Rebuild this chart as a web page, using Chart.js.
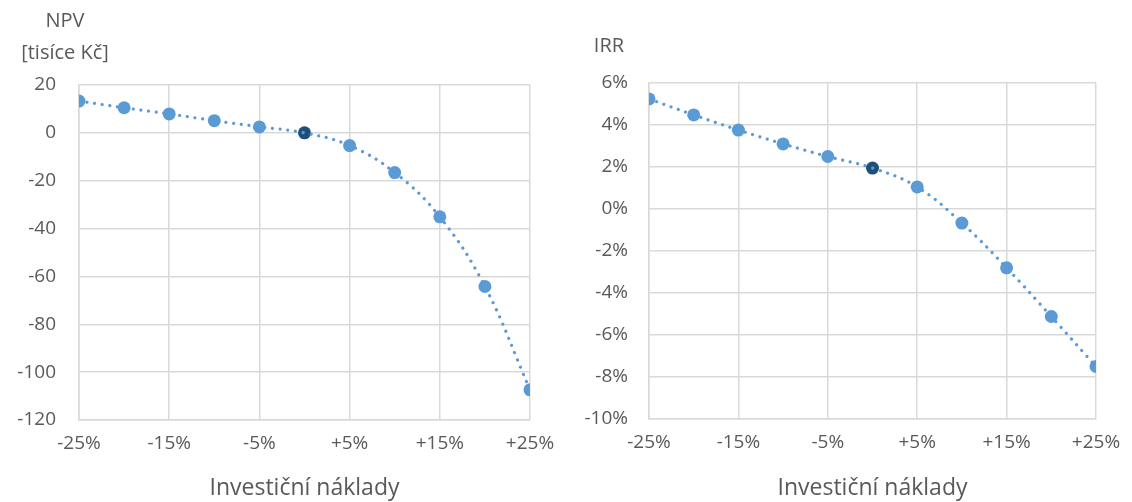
<!DOCTYPE html>
<html>
<head>
<meta charset="utf-8">
<script src="https://cdn.jsdelivr.net/npm/chart.js@4/dist/chart.umd.min.js"></script>
<style>
  html, body { margin: 0; padding: 0; background: #ffffff; }
  #wrap { position: relative; width: 1132px; height: 502px; overflow: hidden; }
  .panel { position: absolute; top: 0; width: 566px; height: 502px; }
  .ytitle { position: absolute; font-family: "Open Sans", sans-serif; font-size: 20px; color: #595959; text-align: center; line-height: 32px; }
</style>
</head>
<body>
<div id="wrap">
  <div class="panel" style="left:0"><canvas id="npv" width="566" height="502"></canvas></div>
  <div class="panel" style="left:566px"><canvas id="irr" width="566" height="502"></canvas></div>
  <div class="ytitle" style="left:5px; top:4px; width:120px;">NPV<br>[tisíce Kč]</div>
  <div class="ytitle" style="left:579px; top:29px; width:60px;">IRR</div>
</div>
<script>
// Change of investment costs (%)
const changes = [-25, -20, -15, -10, -5, 0, 5, 10, 15, 20, 25];
const xTicks = [-25, -15, -5, 5, 15, 25];
// NPV in thousands CZK
const npvValues = [13.3, 10.5, 7.9, 5.1, 2.5, 0, -5.3, -16.6, -35.1, -64.2, -107.4];
// IRR in %
const irrValues = [5.24, 4.48, 3.76, 3.1, 2.5, 1.95, 1.05, -0.67, -2.8, -5.12, -7.5];
const npvTicks = [-120, -100, -80, -60, -40, -20, 0, 20];
const irrTicks = [-10, -8, -6, -4, -2, 0, 2, 4, 6];
const baseIndex = 5;

const FONT = '"Open Sans", sans-serif';
const TEXT = '#595959';
const GRID = '#D9D9D9';
const BLUE = '#5B9BD5';
const DARK = '#1F4E79';

function pct(v) { return (v > 0 ? '+' : '') + v + '%'; }

// top: plot top edge; xHeight: height of the bottom axis box; yWidth: width of the left axis box
function makeChart(id, values, yTicks, yFmt, top, xHeight, yWidth, yPad) {
  const pts = changes.map((c, i) => ({ x: c, y: values[i] }));
  return new Chart(document.getElementById(id), {
    type: 'line',
    data: {
      datasets: [
        {
          data: pts,
          borderColor: BLUE,
          borderWidth: 3.2,
          borderDash: [0.01, 7.8],
          borderCapStyle: 'round',
          tension: 0.4,
          pointRadius: changes.map((c, i) => i === baseIndex ? 0 : 6.5),
          pointBackgroundColor: BLUE,
          pointBorderWidth: 0,
          order: 1
        },
        {
          data: [pts[baseIndex]],
          showLine: false,
          pointRadius: 6.5,
          pointBackgroundColor: DARK,
          pointBorderWidth: 0,
          order: 2
        }
      ]
    },
    options: {
      responsive: false,
      animation: false,
      layout: { padding: { top: top, right: 36, bottom: 0, left: 0 } },
      plugins: { legend: { display: false }, tooltip: { enabled: false } },
      scales: {
        x: {
          type: 'linear',
          min: -25, max: 25,
          afterBuildTicks: s => { s.ticks = xTicks.map(v => ({ value: v })); },
          afterFit: s => { s.height = xHeight; s.paddingLeft = 0; s.paddingRight = 0; },
          grid: { color: GRID, lineWidth: 1.5, drawTicks: false },
          border: { color: GRID, width: 1.5 },
          ticks: { callback: v => pct(v), font: { family: FONT, size: 19 }, color: TEXT, padding: 12, maxRotation: 0 },
          title: { display: true, text: 'Investiční náklady', font: { family: FONT, size: 23 }, color: TEXT, padding: { top: 7, bottom: 0 } }
        },
        y: {
          type: 'linear',
          min: yTicks[0], max: yTicks[yTicks.length - 1],
          afterBuildTicks: s => { s.ticks = yTicks.map(v => ({ value: v })); },
          afterFit: s => { s.width = yWidth; s.paddingTop = 0; s.paddingBottom = 0; },
          grid: { color: GRID, lineWidth: 1.5, drawTicks: false },
          border: { color: GRID, width: 1.5 },
          ticks: { callback: yFmt, font: { family: FONT, size: 19 }, color: TEXT, padding: yPad }
        }
      }
    }
  });
}

makeChart('npv', npvValues, npvTicks, v => String(v), 85, 82, 79, 23);
makeChart('irr', irrValues, irrTicks, v => v + '%', 83, 83, 83, 21);
</script>
</body>
</html>
